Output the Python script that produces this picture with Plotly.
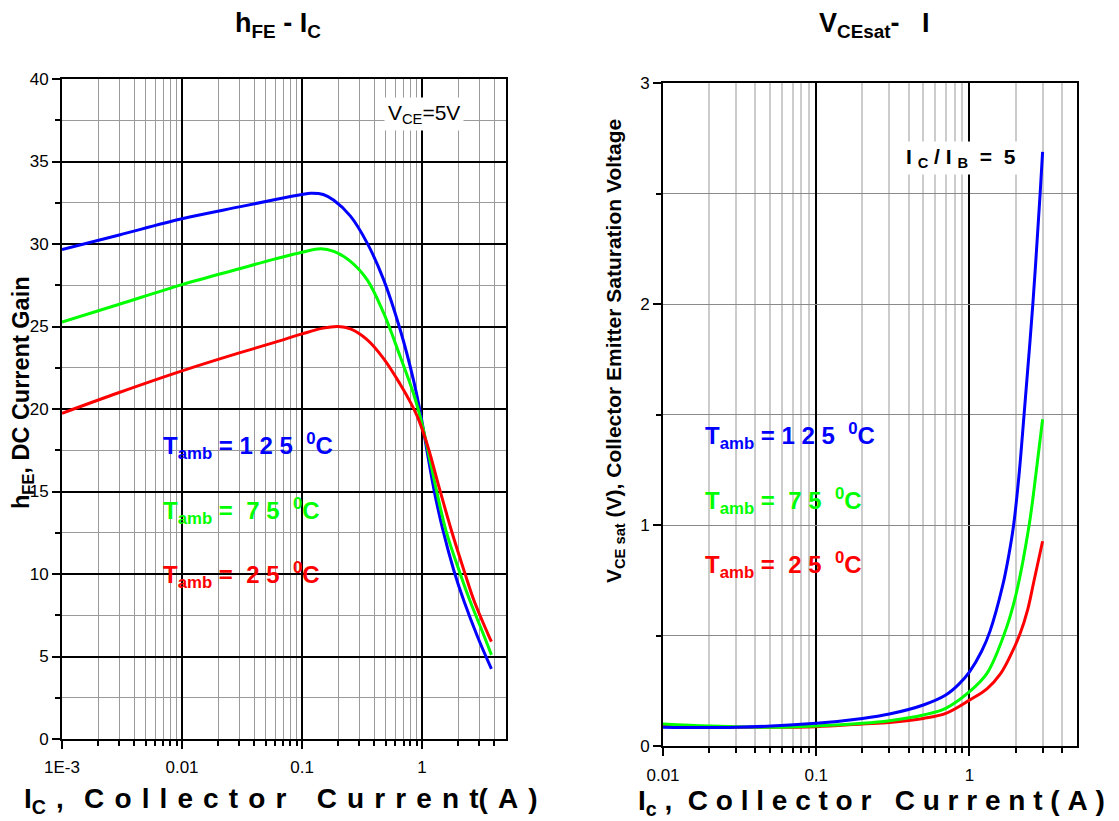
import math
import plotly.graph_objects as go

# page body has an 8px margin; figure is sized to fill the rest of the 1119x821 window
OFF = 8
W, H = 1119 - OFF, 821 - OFF

# ---------------- data: hFE vs Ic (left) ----------------
hfe_x_125 = [0.001, 0.003, 0.01, 0.03, 0.06, 0.1, 0.118, 0.15, 0.184, 0.253, 0.348, 0.478, 0.657, 0.847, 0.977, 1.122, 1.259, 1.479, 1.841, 2.239, 2.897, 3.78]
hfe_y_125 = [29.66, 30.55, 31.53, 32.25, 32.7, 33.0, 33.07, 33.0, 32.65, 31.69, 30.07, 27.84, 24.8, 21.76, 19.6, 17.07, 15.07, 12.76, 10.2, 8.33, 6.2, 4.25]

hfe_x_75 = [0.001, 0.003, 0.01, 0.03, 0.06, 0.1, 0.143, 0.184, 0.253, 0.348, 0.478, 0.657, 0.847, 1.0, 1.148, 1.318, 1.585, 2.08, 2.50, 3.23, 3.78]
hfe_y_75 = [25.27, 26.35, 27.54, 28.5, 29.1, 29.5, 29.71, 29.55, 28.95, 27.84, 25.82, 23.18, 20.95, 19.08, 17.1, 15.06, 12.6, 10.0, 8.39, 6.38, 5.1]

hfe_x_25 = [0.001, 0.003, 0.01, 0.03, 0.06, 0.1, 0.15, 0.2, 0.253, 0.348, 0.478, 0.657, 0.80, 0.93, 1.13, 1.38, 1.778, 2.26, 2.72, 3.57, 3.78]
hfe_y_25 = [19.74, 21.0, 22.31, 23.4, 24.05, 24.55, 24.9, 25.0, 24.85, 24.2, 23.05, 21.5, 20.4, 19.4, 17.6, 15.3, 12.5, 10.1, 8.35, 6.3, 5.9]

# ---------------- data: VCEsat vs Ic (right) ----------------
vce_x_125 = [0.01, 0.03, 0.1, 0.2, 0.3, 0.5, 0.7, 0.85, 1.0, 1.2, 1.36, 1.65, 1.8, 1.94, 2.1, 2.27, 2.59, 2.89, 3.0]
vce_y_125 = [0.086, 0.086, 0.104, 0.126, 0.146, 0.187, 0.232, 0.28, 0.337, 0.43, 0.52, 0.73, 0.86, 1.0, 1.22, 1.5, 2.0, 2.5, 2.69]

vce_x_75 = [0.01, 0.02, 0.05, 0.1, 0.2, 0.3, 0.5, 0.7, 1.0, 1.3, 1.67, 2.0, 2.45, 2.75, 3.0]
vce_y_75 = [0.101, 0.092, 0.086, 0.092, 0.104, 0.116, 0.142, 0.172, 0.247, 0.33, 0.5, 0.68, 1.0, 1.265, 1.48]

vce_x_25 = [0.01, 0.05, 0.1, 0.2, 0.3, 0.5, 0.7, 1.0, 1.3, 1.6, 1.85, 2.14, 2.4, 2.62, 3.0]
vce_y_25 = [0.09, 0.086, 0.089, 0.101, 0.108, 0.126, 0.149, 0.209, 0.26, 0.33, 0.41, 0.51, 0.62, 0.74, 0.928]

# ticks
left_x_tickvals = [0.001, 0.01, 0.1, 1]
left_x_ticktext = ["1E-3", "0.01", "0.1", "1"]
right_x_tickvals = [0.01, 0.1, 1]
right_x_ticktext = ["0.01", "0.1", "1"]

BLUE, GREEN, RED = "#0000ff", "#00ff00", "#ff0000"
FONT = "Arial, Liberation Sans, sans-serif"

def minor_vals(lo_exp, hi_val):
    vals = []
    e = lo_exp
    while 10 ** e < hi_val:
        for m in range(2, 10):
            v = m * 10 ** e
            if v < hi_val:
                vals.append(v)
        e += 1
    return vals

def px(x):
    return (x - OFF) / W

def py(y):
    return 1 - (y - OFF) / H

fig = go.Figure()

lw = 3
for xs, ys, c in [(hfe_x_125, hfe_y_125, BLUE), (hfe_x_75, hfe_y_75, GREEN), (hfe_x_25, hfe_y_25, RED)]:
    fig.add_trace(go.Scatter(x=xs, y=ys, mode="lines", line=dict(color=c, width=lw, shape="spline", smoothing=1.0),
                             xaxis="x", yaxis="y", showlegend=False, hoverinfo="skip"))
for xs, ys, c in [(vce_x_25, vce_y_25, RED), (vce_x_75, vce_y_75, GREEN), (vce_x_125, vce_y_125, BLUE)]:
    fig.add_trace(go.Scatter(x=xs, y=ys, mode="lines", line=dict(color=c, width=lw, shape="spline", smoothing=1.0),
                             xaxis="x2", yaxis="y2", showlegend=False, hoverinfo="skip"))

tickfont = dict(family=FONT, size=17, color="black")

common_x = dict(type="log", tickmode="array", ticks="outside", ticklen=8, tickwidth=2, tickcolor="black",
                showline=True, linecolor="black", linewidth=2, mirror=True, showgrid=True, automargin=False,
                gridcolor="black", gridwidth=1.5, tickfont=tickfont, zeroline=False, ticklabelstandoff=4)
common_y = dict(ticks="outside", ticklen=8, tickwidth=2, tickcolor="black", automargin=False,
                showline=True, linecolor="black", linewidth=2, mirror=True, showgrid=True,
                tickfont=tickfont, zeroline=False)

fig.update_layout(
    width=W, height=H, margin=dict(l=0, r=0, t=0, b=0, autoexpand=False),
    paper_bgcolor="white", plot_bgcolor="white",
    xaxis=dict(common_x, domain=[px(62), px(506)], range=[-3, math.log10(5)], anchor="y",
               tickvals=left_x_tickvals, ticktext=left_x_ticktext,
               minor=dict(tickmode="array", tickvals=minor_vals(-3, 5), ticks="outside", ticklen=5,
                          tickwidth=2, tickcolor="black", showgrid=True, gridcolor="#9a9a9a", gridwidth=1.2)),
    yaxis=dict(common_y, domain=[py(739), py(79)], range=[0, 40], dtick=5, tick0=0, anchor="x",
               gridcolor="black", gridwidth=1.5,
               minor=dict(dtick=2.5, tick0=0, ticks="outside", ticklen=5, tickwidth=2, tickcolor="black",
                          showgrid=True, gridcolor="#9a9a9a", gridwidth=1.2)),
    xaxis2=dict(common_x, domain=[px(663), px(1076.6)], range=[-2, math.log10(5)], anchor="y2",
                tickvals=right_x_tickvals, ticktext=right_x_ticktext,
                minor=dict(tickmode="array", tickvals=minor_vals(-2, 5), ticks="outside", ticklen=5,
                           tickwidth=2, tickcolor="black", showgrid=True, gridcolor="#cccccc", gridwidth=1.5)),
    yaxis2=dict(common_y, domain=[py(746.3), py(83.3)], range=[0, 3], dtick=1, tick0=0, anchor="x2",
                gridcolor="#8a8a8a", gridwidth=1.2,
                minor=dict(dtick=0.5, tick0=0, ticks="outside", ticklen=5, tickwidth=2, tickcolor="black",
                           showgrid=True, gridcolor="#8a8a8a", gridwidth=1.2)),
)

NB = "\u00a0"
HS = "\u200a"

def sp(s):
    return s.replace(" ", NB)

def spaced(s):
    # letter-spaced text: each single space becomes a wider gap
    return s.replace(" ", NB + HS)

ann = []
# titles
ann.append(dict(text="<b>h<sub>FE</sub> - I<sub>C</sub></b>", x=px(278), y=py(25), font=dict(family=FONT, size=27, color="black")))
ann.append(dict(text=sp("<b>V<sub>CEsat</sub>-   I</b>"), x=px(874), y=py(25), font=dict(family=FONT, size=27, color="black")))
# x axis titles
ann.append(dict(text=spaced("<b>I<sub>C</sub> ,  C o l l e c t o r   C u r r e n t( A )</b>"), x=px(281), y=py(800),
                font=dict(family=FONT, size=28, color="black")))
ann.append(dict(text=sp("<b>I<sub>c</sub> ,  C o l l e c t o r   C u r r e n t ( A )</b>"), x=px(871), y=py(802),
                font=dict(family=FONT, size=28, color="black")))
# y axis titles
ann.append(dict(text="<b>h<sub>FE</sub>, DC Current Gain</b>", x=px(22), y=py(393), textangle=-90,
                font=dict(family=FONT, size=23.5, color="black")))
ann.append(dict(text=sp("<b>V<sub>CE sat</sub> (V), Collector Emitter Saturation Voltage</b>"), x=px(615), y=py(351), textangle=-90,
                font=dict(family=FONT, size=21, color="black")))
# condition boxes
ann.append(dict(text="V<sub>CE</sub>=5V", x=px(424), y=py(114), bgcolor="white", borderpad=3,
                font=dict(family=FONT, size=21, color="black")))
ann.append(dict(text=sp("<b>I <sub>C</sub> / I <sub>B</sub>  =  5</b>"), x=px(961), y=py(158), bgcolor="white", borderpad=3,
                font=dict(family=FONT, size=21, color="black")))
# temperature labels
labels = [
    ("<b>T<sub>amb</sub> = 1 2 5  <sup>0</sup>C</b>", BLUE),
    ("<b>T<sub>amb</sub> =  7 5  <sup>0</sup>C</b>", GREEN),
    ("<b>T<sub>amb</sub> =  2 5  <sup>0</sup>C</b>", RED),
]
left_lab_y = [446, 511, 575]
right_lab_y = [436, 501, 565]
for (t, c), yl, yr in zip(labels, left_lab_y, right_lab_y):
    ann.append(dict(text=sp(t), x=px(161), y=py(yl), xanchor="left", font=dict(family=FONT, size=24, color=c)))
    ann.append(dict(text=sp(t), x=px(703), y=py(yr), xanchor="left", font=dict(family=FONT, size=24, color=c)))

for a in ann:
    a.setdefault("xref", "paper")
    a.setdefault("yref", "paper")
    a.setdefault("showarrow", False)
    a.setdefault("xanchor", "center")
    a.setdefault("yanchor", "middle")
    fig.add_annotation(**a)

fig.write_html("out.html")
